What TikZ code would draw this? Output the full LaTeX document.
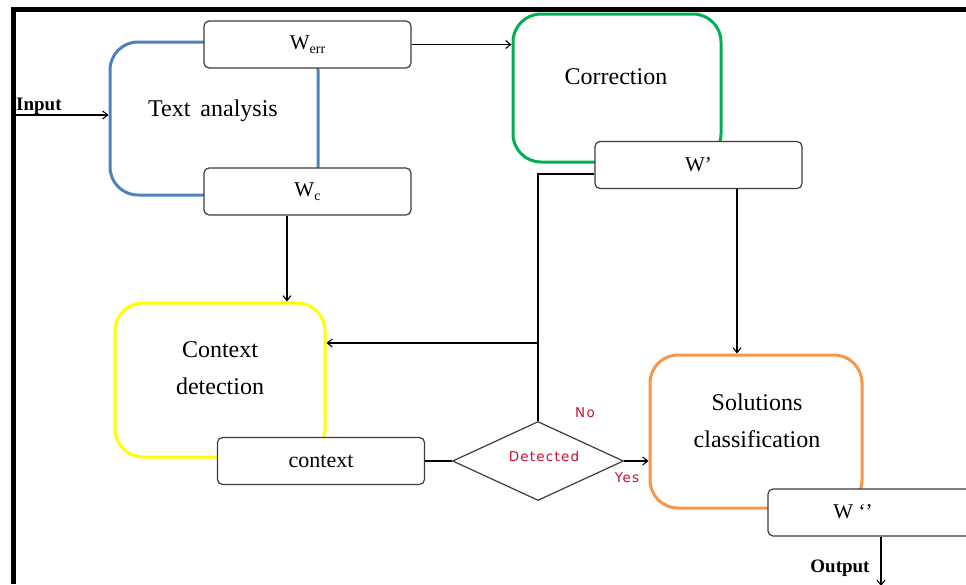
\documentclass[tikz,border=0pt]{standalone}
\usepackage{fontspec}
\setmainfont{Liberation Serif}
\newfontfamily\lblfont[LetterSpace=9]{DejaVu Sans}
\usetikzlibrary{arrows.meta,shapes.geometric}
\definecolor{tablue}{RGB}{79,129,189}
\definecolor{cgreen}{RGB}{0,176,80}
\definecolor{cyellow}{RGB}{255,255,0}
\definecolor{corange}{RGB}{247,150,70}
\definecolor{bgray}{RGB}{60,60,60}
\definecolor{lblred}{RGB}{200,16,46}
\tikzset{
  bigbox/.style={draw, line width=3pt, rounded corners=28pt, inner sep=0pt},
  wbox/.style={draw=bgray, fill=white, line width=1.2pt, rounded corners=5pt,
    minimum width=207pt, minimum height=47pt, inner sep=0pt},
  btext/.style={font=\fontsize{24}{37}\selectfont, align=center, inner sep=0pt},
  wtext/.style={font=\fontsize{21}{24}\selectfont, inner sep=0pt},
  lbl/.style={font=\lblfont\fontsize{13.5}{15}\selectfont, text=lblred, inner sep=0pt},
  iotext/.style={font=\bfseries\fontsize{19}{22}\selectfont, inner sep=0pt},
  conn/.style={line width=1.1pt},
  arr/.style={conn, -{Straight Barb[length=5pt,width=8pt]}},
  decision/.style={diamond, draw=bgray, line width=1.2pt, fill=white,
    minimum width=171pt, minimum height=79pt, inner sep=0pt, aspect=2.16}
}
\newcommand{\sub}[1]{\raisebox{-0.4ex}{\fontsize{14}{14}\selectfont #1}}
\begin{document}
\begin{tikzpicture}[x=1pt,y=-1pt]
\useasboundingbox (0,0) rectangle (966,584);
\clip (0,0) rectangle (966,584);
% frame
\fill[black] (12,7) rectangle (966,12);
\fill[black] (11,7) rectangle (16,584);

% big process boxes
\node[bigbox, draw=tablue, minimum width=208pt, minimum height=153pt] (ta) at (214,118.5) {};
\node[bigbox, draw=cgreen, minimum width=208pt, minimum height=148pt] (corr) at (617,88) {};
\node[bigbox, draw=cyellow, minimum width=210pt, minimum height=154pt] (cd) at (220,380) {};
\node[bigbox, draw=corange, minimum width=212pt, minimum height=153pt] (sc) at (756,431.5) {};

% texts of big boxes
\node[btext] (tatext) at (213,111) {Text\, analysis};
\node[btext] (corrtext) at (616,77) {Correction};
\node[btext] (cdtext) at (220,368) {Context\\detection};
\node[btext] (sctext) at (757,421) {Solutions\\classification};

% small boxes
\node[wbox, wtext] (werr) at (307.5,44.5) {W\sub{err}};
\node[wbox, wtext] (wc) at (307.5,191.5) {W\sub{c}};
\node[wbox, wtext] (wp) at (698.5,165) {W’};
\node[wbox, btext, font=\fontsize{22}{24}\selectfont] (ctx) at (321,461) {context};
\node[wbox] (wpp) at (871.5,512.5) {};
\node[wtext] (wpptext) at (853,512) {W ‘’};

% decision
\node[decision] (dia) at (538,461) {};
\node[lbl] (dettext) at (544,456) {Detected};
\node[lbl] (notext) at (585,413) {No};
\node[lbl] (yestext) at (627,478) {Yes};

% input / output
\coordinate (in) at (16,115);
\node[iotext, anchor=base west] (intext) at (16,110) {Input};
\draw[arr] (in) -- (in -| ta.west);
\node[iotext] (outtext) at (840,568) {Output};
\coordinate (outend) at (881,586);
\draw[arr] ([xshift=9.5pt]wpp.south) -- ([xshift=9.5pt]wpp.south |- outend);

% connectors
\draw[arr] (werr.east) -- (werr.east -| corr.west);
\draw[arr] ([xshift=-20.5pt]wc.south) -- ([xshift=-20.5pt]wc.south |- cd.north);
\draw[conn] ([yshift=-9pt]wp.west) -| (dia.north);
\coordinate (nj) at ([yshift=37pt]cd.east);
\draw[arr] (nj -| dia.north) -- (nj);
\draw[arr] ([xshift=38.5pt]wp.south) -- ([xshift=38.5pt]wp.south |- sc.north);
\draw[conn] (ctx.east) -- (dia.west);
\draw[arr] (dia.east) -- (dia.east -| sc.west);
\end{tikzpicture}
\end{document}
